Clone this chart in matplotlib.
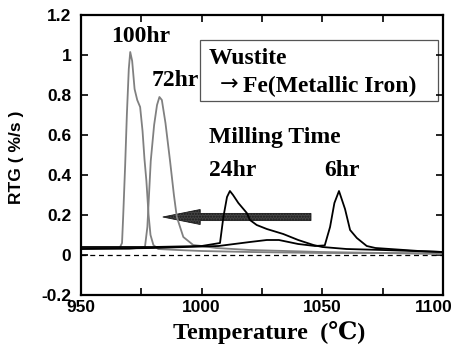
import numpy as np
import matplotlib
matplotlib.use("Agg")
import matplotlib.pyplot as plt
from matplotlib.patches import FancyArrow, Rectangle
from matplotlib.ticker import MultipleLocator, FixedLocator
from matplotlib.transforms import ScaledTranslation

# RTG curves (temperature in C, rate in %/s)
t_100 = [950, 960, 966, 967, 967.5, 968.3, 969, 969.8, 970.4, 971.2, 972.2, 973.3, 974.5, 975.5, 976.3, 977.1, 978.0, 978.8, 980, 982, 990, 1000, 1020, 1050, 1075, 1100]
y_100 = [0.035, 0.035, 0.035, 0.06, 0.2, 0.45, 0.7, 0.93, 1.015, 0.97, 0.83, 0.775, 0.74, 0.62, 0.48, 0.37, 0.2, 0.1, 0.05, 0.03, 0.025, 0.02, 0.015, 0.01, 0.01, 0.008]

t_72 = [950, 970, 976.5, 977.5, 978.9, 980.3, 981.5, 982.5, 983.5, 985, 986.9, 988.5, 989.7, 992.4, 996.5, 1000, 1006, 1020, 1050, 1100]
y_72 = [0.03, 0.03, 0.04, 0.14, 0.47, 0.65, 0.75, 0.79, 0.775, 0.66, 0.47, 0.3, 0.19, 0.09, 0.05, 0.045, 0.035, 0.025, 0.015, 0.005]

t_24 = [950, 980, 1000, 1007.6, 1009, 1010.5, 1011.7, 1013, 1015.2, 1018.7, 1020, 1022.8, 1027, 1033.8, 1040, 1046.3, 1050, 1060, 1075, 1100]
y_24 = [0.04, 0.04, 0.045, 0.06, 0.19, 0.29, 0.32, 0.3, 0.26, 0.21, 0.175, 0.15, 0.13, 0.105, 0.075, 0.05, 0.04, 0.03, 0.025, 0.015]

t_6 = [950, 980, 1007, 1020, 1027, 1032, 1040, 1047, 1051, 1053.2, 1055, 1056.9, 1059.4, 1061.5, 1064.3, 1068.4, 1072, 1078, 1090, 1100]
y_6 = [0.03, 0.035, 0.045, 0.065, 0.075, 0.075, 0.055, 0.045, 0.048, 0.14, 0.26, 0.32, 0.23, 0.125, 0.085, 0.045, 0.035, 0.03, 0.02, 0.015]

x_ticks = [950, 1000, 1050, 1100]
y_ticks = [-0.2, 0, 0.2, 0.4, 0.6, 0.8, 1.0, 1.2]
y_ticklabels = ['-0.2', '0', '0.2', '0.4', '0.6', '0.8', '1', '1.2']

serif = ['Liberation Serif', 'DejaVu Serif']
sans = ['Liberation Sans', 'DejaVu Sans']

fig = plt.figure(figsize=(4.54, 3.51), dpi=100)
ax = fig.add_axes([81 / 454, (351 - 295) / 351, 362 / 454, 280 / 351])

ax.plot(t_100, y_100, color='#808080', lw=1.3)
ax.plot(t_72, y_72, color='#808080', lw=1.3)
ax.plot(t_24, y_24, color='black', lw=1.3)
ax.plot(t_6, y_6, color='black', lw=1.3)
ax.axhline(0, color='black', lw=0.9, ls=(0, (4, 3)))

# milling time arrow (points to lower temperature)
arrow = FancyArrow(1045.3, 0.19, -61.4, 0, width=0.036, head_width=0.075,
                   head_length=15.5, length_includes_head=True,
                   facecolor='#444444', edgecolor='#1a1a1a', lw=0.6, hatch='......')
ax.add_patch(arrow)

# box around the reaction label
box = Rectangle((999.4, 0.77), 98.7, 0.305, facecolor='white', edgecolor='#555555', lw=0.9)
ax.add_patch(box)

tkw = dict(family=serif, weight='bold', fontsize=17, va='center')
ax.text(974.8, 1.095, '100hr', ha='center', **tkw)
ax.text(989.2, 0.875, '72hr', ha='center', **tkw)
ax.text(1003.1, 0.985, 'Wustite', ha='left', **tkw)
ax.text(1007.6, 0.852, '\u2192', ha='left', va='center', family=['DejaVu Sans'], fontsize=16)
ax.text(1017.0, 0.845, 'Fe(Metallic Iron)', ha='left', **tkw)
ax.text(1003.1, 0.59, 'Milling Time', ha='left', **tkw)
ax.text(1003.1, 0.42, '24hr', ha='left', **tkw)
ax.text(1050.8, 0.42, '6hr', ha='left', **tkw)

ax.set_xlim(950, 1100)
ax.set_ylim(-0.2, 1.2)
ax.xaxis.set_major_locator(FixedLocator(x_ticks))
ax.xaxis.set_minor_locator(MultipleLocator(25))
ax.tick_params(which='both', direction='in', top=True, right=True, width=1.2, length=5)
ax.tick_params(axis='y', pad=7)
ax.set_xticklabels([str(v) for v in x_ticks], family=sans, weight='bold', fontsize=12.5)
ax.set_yticks(y_ticks)
ax.set_yticklabels(y_ticklabels, family=sans, weight='bold', fontsize=12.5)
# last x label sits a bit inside the frame, as in the original
lab = ax.get_xticklabels()[-1]
lab.set_transform(lab.get_transform() + ScaledTranslation(-9 / 100, 0, fig.dpi_scale_trans))
for sp in ax.spines.values():
    sp.set_linewidth(1.6)

fig.text(269 / 454, 1 - 333 / 351, 'Temperature  (\u2103)', ha='center', va='center',
         family=serif, weight='bold', fontsize=17.5)
fig.text(17 / 454, 1 - 157 / 351, 'RTG ( %/s )', ha='center', va='center', rotation=90,
         family=sans, weight='bold', fontsize=12.5)

fig.savefig('out.png', dpi=100)
